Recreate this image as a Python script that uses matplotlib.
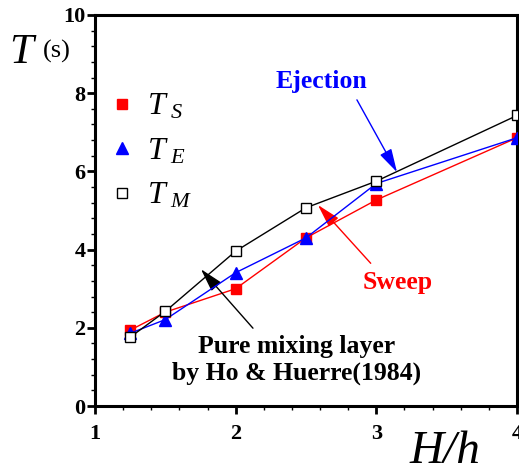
import matplotlib
matplotlib.use("Agg")
import matplotlib.pyplot as plt
from matplotlib.lines import Line2D
from matplotlib.ticker import MultipleLocator

plt.rcParams["font.family"] = ["Liberation Serif", "DejaVu Serif"]
plt.rcParams["mathtext.fontset"] = "custom"
plt.rcParams["mathtext.it"] = "Liberation Serif:italic"
plt.rcParams["mathtext.rm"] = "Liberation Serif"

# Depth ratio H/h and measured periods T (s)
ratio = [1.25, 1.5, 2.0, 2.5, 3.0, 4.0]
t_sweep = [1.94, 2.40, 3.00, 4.30, 5.27, 6.86]
t_ejection = [1.86, 2.21, 3.41, 4.30, 5.69, 6.86]
t_mixing = [1.76, 2.42, 3.96, 5.07, 5.75, 7.43]

x_ticks = [1, 2, 3, 4]
y_ticks = [0, 2, 4, 6, 8, 10]

fig = plt.figure(figsize=(5.19, 4.75), dpi=100)
ax = fig.add_axes([95 / 519, 1 - 406 / 475, 422 / 519, 391 / 475])

ax.plot(ratio, t_sweep, color="red", lw=1.0, marker="s", ms=7.5,
        mfc="red", mec="red", zorder=3)
ax.plot(ratio, t_ejection, color="blue", lw=1.0, marker="^", ms=8,
        mfc="blue", mec="blue", zorder=4)
ax.plot(ratio, t_mixing, color="black", lw=1.0, marker="s", ms=7.5,
        mfc="white", mec="black", mew=1.0, zorder=5)

ax.set_xlim(1, 4)
ax.set_ylim(0, 10)
ax.set_xticks(x_ticks)
ax.set_yticks(y_ticks)
ax.xaxis.set_minor_locator(MultipleLocator(0.2))
ax.yaxis.set_minor_locator(MultipleLocator(0.4))
ax.tick_params(which="major", direction="out", length=6, width=2)
ax.tick_params(which="minor", direction="out", length=3, width=1)
ax.tick_params(axis="x", which="major", pad=7, labelsize=16)
ax.tick_params(axis="y", which="major", pad=1, labelsize=16)
for lab in ax.get_xticklabels() + ax.get_yticklabels():
    lab.set_fontweight("bold")
for sp in ax.spines.values():
    sp.set_linewidth(2.2)

# Axis titles
fig.text(9 / 519, 1 - 63 / 475, "T", fontsize=31, style="italic",
         ha="left", va="baseline")
fig.text(43 / 519, 1 - 58 / 475, "(s)", fontsize=19, ha="left", va="baseline")
fig.text(410 / 519, 1 - 463 / 475, "H/h", fontsize=34, style="italic",
         ha="left", va="baseline")

# Legend with marker-only entries
handles = [
    Line2D([], [], ls="none", marker="s", ms=7.5, mfc="red", mec="red"),
    Line2D([], [], ls="none", marker="^", ms=8, mfc="blue", mec="blue"),
    Line2D([], [], ls="none", marker="s", ms=7.5, mfc="white", mec="black"),
]
labels = [r"$T_{\ S}$", r"$T_{\ E}$", r"$T_{\ M}$"]
ax.legend(handles, labels, loc="upper left", bbox_to_anchor=(0.01, 0.835),
          frameon=False, fontsize=23, handlelength=0.6, handletextpad=0.5,
          labelspacing=0.47, borderaxespad=0)

# Annotations
ax.text(2.607, 8.29, "Ejection", color="blue", fontsize=18.5,
        fontweight="bold", ha="center", va="center")
ax.annotate("", xy=(3.147, 5.98), xytext=(2.862, 7.83),
            arrowprops=dict(arrowstyle="-|>,head_length=0.8,head_width=0.22",
                            color="blue", lw=1.0, mutation_scale=18,
                            shrinkA=0, shrinkB=0))

ax.text(3.154, 3.15, "Sweep", color="red", fontsize=18.5, fontweight="bold",
        ha="center", va="center")
ax.annotate("", xy=(2.585, 5.14), xytext=(2.96, 3.65),
            arrowprops=dict(arrowstyle="-|>,head_length=0.8,head_width=0.22",
                            color="red", lw=1.0, mutation_scale=18,
                            shrinkA=0, shrinkB=0))

ax.text(2.43, 1.18, "Pure mixing layer\nby Ho & Huerre(1984)", color="black",
        fontsize=18.5, fontweight="bold", ha="center", va="center",
        linespacing=1.2)
ax.annotate("", xy=(1.753, 3.50), xytext=(2.123, 1.99),
            arrowprops=dict(arrowstyle="-|>,head_length=0.8,head_width=0.22",
                            color="black", lw=1.0, mutation_scale=18,
                            shrinkA=0, shrinkB=0))

fig.savefig("out.png", dpi=100)
